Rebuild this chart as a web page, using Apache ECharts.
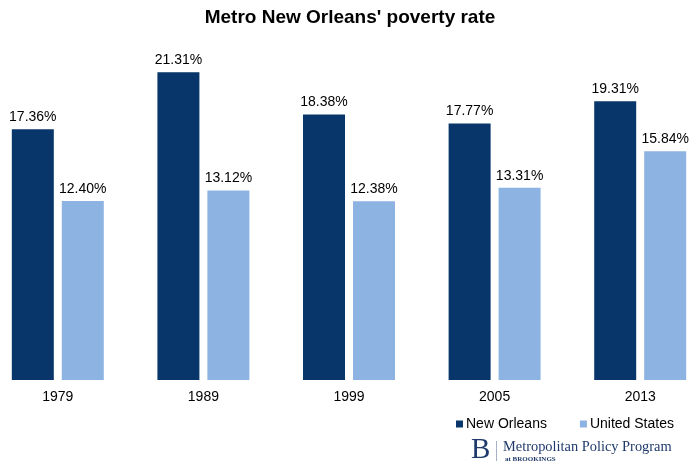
<!DOCTYPE html>
<html><head><meta charset="utf-8">
<script src="https://cdn.jsdelivr.net/npm/echarts@6/dist/echarts.min.js"></script>
<style>html,body{margin:0;padding:0;background:#fff}#c{width:700px;height:471px}</style>
</head><body><div id="c"></div>
<script>
const categories = ['1979','1989','1999','2005','2013'];
const newOrleans = [17.36, 21.31, 18.38, 17.77, 19.31];
const unitedStates = [12.40, 13.12, 12.38, 13.31, 15.84];
const seriesNames = ['New Orleans','United States'];
const titleText = "Metro New Orleans' poverty rate";

const chart = echarts.init(document.getElementById('c'));
const labelStyle = {show:true, position:'top', distance:5, color:'#000', fontFamily:'Liberation Sans, Arial', fontSize:14,
  formatter: p => p.value.toFixed(2) + '%'};
chart.setOption({
  animation:false,
  title:{text:titleText, left:'center', top:3, textStyle:{fontFamily:'Liberation Sans, Arial', fontWeight:'bold', fontSize:19, color:'#000'}},
  grid:{left:-15, right:-13, top:19, bottom:91, containLabel:false, outerBoundsMode:'none'},
  legend:{data:seriesNames, left:451, top:412, itemWidth:7, itemHeight:7, itemGap:33, icon:'rect',
    textStyle:{fontFamily:'Liberation Sans, Arial', fontSize:14, color:'#000', padding:[0,0,0,-2]}},
  xAxis:{type:'category', data:categories, axisLine:{show:false}, axisTick:{show:false},
    axisLabel:{color:'#000', fontFamily:'Liberation Sans, Arial', fontSize:14, margin:10}},
  yAxis:{type:'value', min:0, max:25, show:false, splitLine:{show:false}},
  series:[
    {name:seriesNames[0], type:'bar', data:newOrleans, barWidth:42, barGap:'19%', itemStyle:{color:'#08366A'}, label:labelStyle},
    {name:seriesNames[1], type:'bar', data:unitedStates, barWidth:42, itemStyle:{color:'#8DB3E2'}, label:labelStyle}
  ],
  graphic:[
    {type:'text', left:471, top:436, style:{text:'B', font:'29px "Liberation Serif", serif', fill:'#1F3A6B'}},
    {type:'line', shape:{x1:496.5, y1:441, x2:496.5, y2:461}, style:{stroke:'#A8B2C4', lineWidth:1}},
    {type:'text', left:503, top:440, style:{text:'Metropolitan Policy Program', font:'14.4px "Liberation Serif", serif', fill:'#1F3A6B'}},
    {type:'text', left:505, top:456, style:{text:'at BROOKINGS', font:'bold 7px "Liberation Serif", serif', fill:'#1F3A6B'}}
  ]
});
</script></body></html>
